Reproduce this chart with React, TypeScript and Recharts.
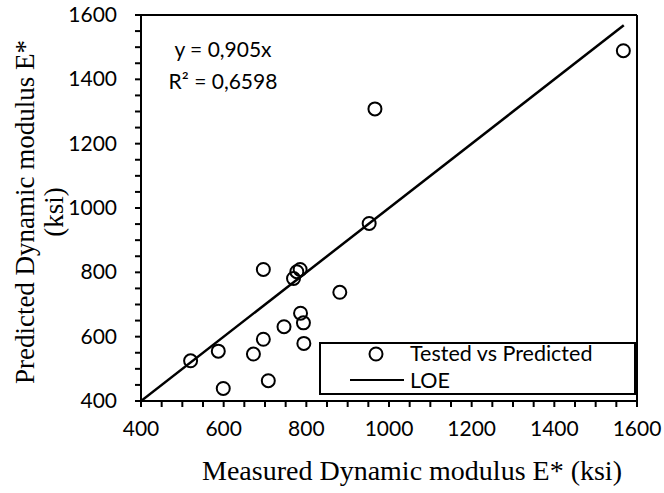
import React from "react";
import { ComposedChart, Scatter, XAxis, YAxis, ReferenceLine, Legend, Label } from "recharts";

const measured = [520, 587, 599, 672, 696, 708, 696, 746, 769, 777, 785, 786, 793, 794, 881, 952, 966, 1567];
const predicted = [525, 555, 439, 546, 592, 463, 809, 631, 781, 802, 809, 673, 643, 579, 738, 952, 1308, 1489];

// line of equality end points
const loeX = [400, 1568];
const loeY = [400, 1568];

const axisTicks = [400, 450, 500, 550, 600, 650, 700, 750, 800, 850, 900, 950, 1000, 1050, 1100, 1150, 1200, 1250, 1300, 1350, 1400, 1450, 1500, 1550, 1600];
const tickLabels = [400, 600, 800, 1000, 1200, 1400, 1600];

const points = measured.map((m, i) => ({ x: m, y: predicted[i] }));
const loe = loeX.map((x, i) => ({ x, y: loeY[i] }));

const SANS = "Lato, 'Open Sans', sans-serif";
const SERIF = "'Liberation Serif', 'Times New Roman', serif";

const XTick = (props: any) => {
  const { x, y, payload } = props;
  if (!tickLabels.includes(payload.value)) return <g />;
  return (
    <text x={x} y={y} dy={16} textAnchor="middle" fontFamily={SANS} fontSize={21} fill="#000">
      {payload.value}
    </text>
  );
};

const YTick = (props: any) => {
  const { x, y, payload } = props;
  if (!tickLabels.includes(payload.value)) return <g />;
  return (
    <text x={x} y={y} dy={7} textAnchor="end" fontFamily={SANS} fontSize={21} fill="#000">
      {payload.value}
    </text>
  );
};

// legend svg is padded 8px above the box so the text is not clipped
const LegendBox = () => (
  <svg width={318} height={62} style={{ display: "block", overflow: "visible" }}>
    <rect x={1} y={9} width={315} height={51} fill="#fff" stroke="#000" strokeWidth={2} />
    <circle cx={57} cy={20} r={6.5} fill="none" stroke="#000" strokeWidth={2} />
    <text x={91} y={27} fontFamily={SANS} fontSize={21.5} fill="#000">Tested vs Predicted</text>
    <line x1={31} x2={85} y1={46} y2={46} stroke="#000" strokeWidth={2} />
    <text x={91} y={54} fontFamily={SANS} fontSize={21.5} fill="#000">LOE</text>
  </svg>
);

const Ring = (props: any) => (
  <circle cx={props.cx} cy={props.cy} r={6.5} fill="none" stroke="#000" strokeWidth={2} />
);

export default function App() {
  return (
    <div style={{ position: "absolute", left: 0, top: 0, width: 664, height: 493, background: "#fff" }}>
      <ComposedChart width={664} height={493} margin={{ top: 15, right: 27, bottom: 32, left: 0 }}>
        <XAxis
          type="number"
          dataKey="x"
          domain={[400, 1600]}
          ticks={axisTicks}
          interval={0}
          allowDataOverflow
          height={60}
          stroke="#000"
          strokeWidth={2}
          tickSize={6}
          tickMargin={13}
          tick={<XTick />}
        >
          <Label
            content={() => (
              <text x={412} y={480} textAnchor="middle" fontFamily={SERIF} fontSize={28} fill="#000">
                Measured Dynamic modulus E* (ksi)
              </text>
            )}
          />
        </XAxis>
        <YAxis
          type="number"
          dataKey="y"
          domain={[400, 1600]}
          ticks={axisTicks}
          interval={0}
          allowDataOverflow
          width={141}
          stroke="#000"
          strokeWidth={2}
          tickSize={6}
          tickMargin={18}
          tick={<YTick />}
        >
          <Label
            content={() => (
              <g fontFamily={SERIF} fontSize={27} fill="#000">
                <text x={34} y={212} transform="rotate(-90, 34, 212)" textAnchor="middle">
                  Predicted Dynamic modulus E*
                </text>
                <text x={63} y={212} transform="rotate(-90, 63, 212)" textAnchor="middle">
                  (ksi)
                </text>
              </g>
            )}
          />
        </YAxis>
        <ReferenceLine y={1600} stroke="#000" strokeWidth={2} />
        <ReferenceLine x={1600} stroke="#000" strokeWidth={2} />
        <Scatter
          name="LOE"
          data={loe}
          line={{ stroke: "#000", strokeWidth: 2.5 }}
          shape={() => <g />}
          isAnimationActive={false}
        />
        <Scatter name="Tested vs Predicted" data={points} shape={<Ring />} isAnimationActive={false} />
        <Legend
          layout="vertical"
          align="center"
          verticalAlign="middle"
          wrapperStyle={{ left: 319, top: 334, width: 318, height: 62 }}
          content={() => <LegendBox />}
        />
      </ComposedChart>
      <div
        style={{
          position: "absolute",
          left: 148,
          top: 33,
          width: 150,
          textAlign: "center",
          fontFamily: SANS,
          fontSize: 21,
          lineHeight: "32px",
          color: "#000",
        }}
      >
        <div>y = 0,905x</div>
        <div>R² = 0,6598</div>
      </div>
    </div>
  );
}
